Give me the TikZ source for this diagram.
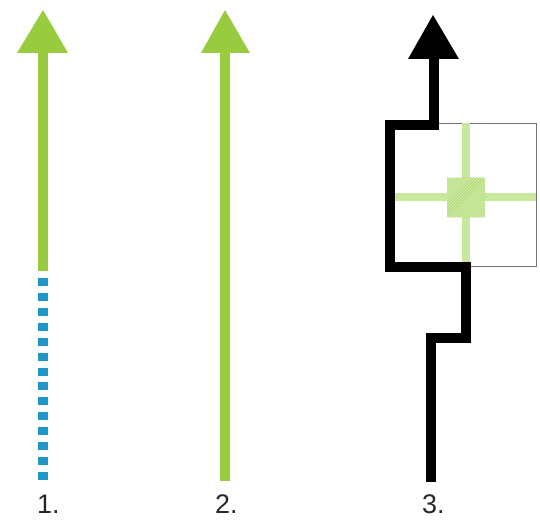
\documentclass[tikz,border=0pt]{standalone}
\usepackage{fontspec}
\setmainfont{Liberation Sans}
\usetikzlibrary{patterns}
\definecolor{leaf}{HTML}{98CC3E}
\definecolor{paleleaf}{HTML}{C8E8A0}
\definecolor{sky}{HTML}{1E96C8}
\tikzset{
  shaft/.style={line width=10bp},
  head/.style={draw=none},
  label/.style={font=\fontsize{27}{27}\selectfont, inner sep=0pt, anchor=base west, text=black!85},
  frame/.style={draw=black!55, line width=0.8bp},
  cross/.style={draw=paleleaf, line width=8bp}
}
\begin{document}
\begin{tikzpicture}[x=1bp, y=-1bp]
  \useasboundingbox (0,0) rectangle (540,523);

  % 1. green arrow continuing as a dashed blue line
  \coordinate (a1top) at (43,52);
  \coordinate (a1mid) at (43,271);
  \draw[shaft, leaf] (a1top) -- (a1mid);
  \fill[head, leaf] (43,10) -- (68,53) -- (17,53) -- cycle;
  \foreach \k in {0,...,13}
    \fill[sky] (37.5,{278+\k*14.92}) rectangle (47.5,{286+\k*14.92});
  \node[label] (l1) at (37,513) {1.};

  % 2. plain green arrow
  \coordinate (a2top) at (225,51);
  \coordinate (a2bot) at (225,481);
  \draw[shaft, leaf] (a2top) -- (a2bot);
  \fill[head, leaf] (225,10) -- (250,53) -- (201,53) -- cycle;
  \node[label] (l2) at (215,513) {2.};

  % 3. black detour around a square cell
  \draw[frame] (390,123) rectangle (536,266);
  \draw[cross] (466,123) -- (466,266);
  \draw[cross] (390,197) -- (536,197);
  \fill[paleleaf!85!white] (447,178) rectangle (485,217);
  \fill[pattern=north east lines, pattern color=leaf!80!paleleaf] (447,178) rectangle (485,217);

  \coordinate (p0) at (434,57);
  \coordinate (p1) at (434,125);
  \coordinate (p2) at (390,125);
  \coordinate (p3) at (390,267);
  \coordinate (p4) at (466,267);
  \coordinate (p5) at (466,338);
  \coordinate (p6) at (431,338);
  \coordinate (p7) at (431,482);
  \draw[shaft, black, line join=miter] (p7) -- (p6) -- (p5) -- (p4) -- (p3) -- (p2) -- (p1) -- (p0);
  \fill[head, black] (433,15) -- (459,59) -- (408,59) -- cycle;
  \node[label] (l3) at (422,513) {3.};
\end{tikzpicture}
\end{document}
